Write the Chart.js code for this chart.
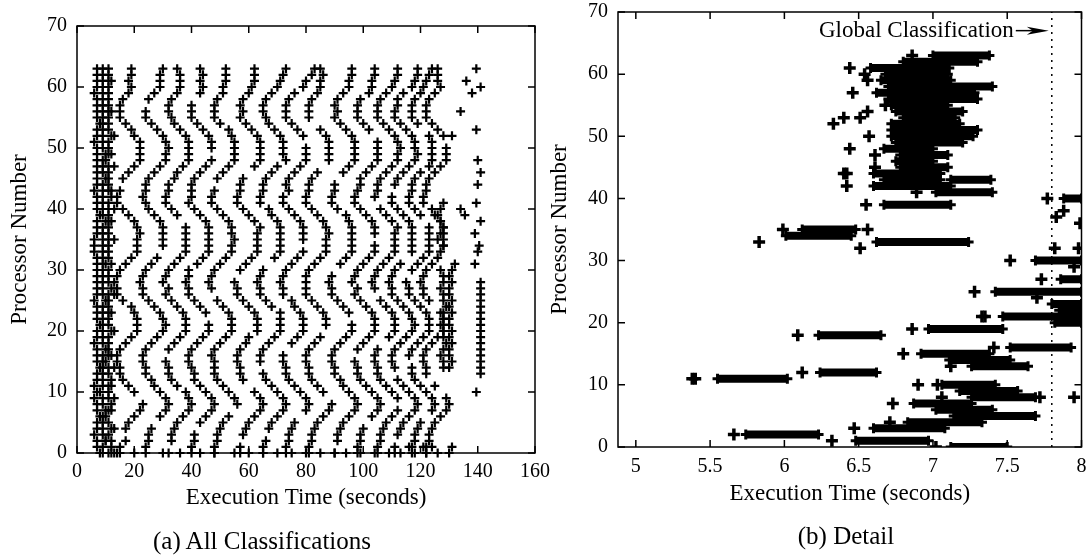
<!DOCTYPE html>
<html>
<head>
<meta charset="utf-8">
<script src="https://cdn.jsdelivr.net/npm/chart.js@4.4.0/dist/chart.umd.min.js"></script>
<style>
  body { margin: 0; background: #fff; width: 1091px; height: 556px; overflow: hidden; position: relative; font-family: 'Liberation Serif', serif; }
  #left { position: absolute; left: 0; top: 0; }
  #right { position: absolute; left: 545px; top: 0; }
  .cap { position: absolute; font-size: 25px; line-height: 30px; color: #000; white-space: nowrap; transform: translateX(-50%); }
</style>
</head>
<body>
<canvas id="left" width="560" height="556"></canvas>
<canvas id="right" width="546" height="556"></canvas>
<div class="cap" style="left:262px; top:526px">(a) All Classifications</div>
<div class="cap" style="left:846px; top:521px">(b) Detail</div>
<script>
// ---- (a) all classifications: one array per wave, index = processor number, value = time (s)
const w1 = [15,15,17,null,17,18,20,22,23,null, 20,18,16,15,15,14,14,15,17,19, 21,21,21,20,19,16,14,14,13,14, 15,17,19,21,21,21,22,21,20,18, 16,14,14,15,null,16,18,20,22,22, 22,22,20,19,17,15,15,15,16,18, 19,18,19,19]
const w2 = [24,24,25,25,26,null,29,31,32,31, 29,27,26,24,24,23,23,24,26,28, 30,31,30,29,27,25,23,23,22,23, 24,26,28,null,30,30,30,30,29,27, 25,24,23,24,24,25,27,29,31,31, 32,31,30,28,26,24,24,null,25,27, 29,29,29,30]
const w3 = [32,null,33,33,34,35,37,39,40,39, 38,35,33,32,32,31,null,32,34,36, 38,38,38,37,35,33,31,32,30,31, 32,34,36,38,38,38,38,38,null,35, 33,31,31,32,32,34,35,37,39,39, 39,39,38,36,34,33,32,32,33,35, 36,36,36,35]
const w4 = [40,40,41,41,null,43,45,47,48,47, 45,43,41,41,40,39,39,40,42,44, 46,46,null,45,43,41,39,39,38,39, 39,42,44,46,46,46,46,46,45,43, 41,39,40,40,40,41,43,45,47,null, 47,47,46,44,42,40,40,40,null,43, 44,43,44,43]
const w5 = [48,48,49,49,50,51,53,null,56,55, 53,51,49,48,48,48,47,48,50,52, 54,54,54,53,51,49,null,47,46,47, 48,50,52,54,54,55,54,54,53,51, 49,47,47,48,null,49,51,53,55,55, 55,55,54,53,50,48,48,48,49,51, 51,52,52,52]
const w6 = [57,57,null,58,59,60,62,64,65,64, 62,null,58,57,57,56,56,57,59,60, 63,63,63,62,60,58,56,56,55,null, 57,59,61,63,63,63,63,64,62,60, 58,56,56,57,57,58,null,62,64,64, 64,64,63,61,59,57,58,57,58,60, 61,62,62,62]
const w7 = [65,65,66,null,67,68,70,72,73,72, 70,68,66,65,null,64,64,65,67,69, 71,71,71,71,68,66,64,64,63,64, 65,null,69,71,71,71,71,71,70,68, 67,64,64,65,65,66,68,70,73,72, 72,72,71,69,67,66,65,65,66,68, 70,71,72,73]
const w8 = [73,73,74,74,75,76,null,80,81,80, 78,76,74,73,73,72,72,null,75,77, 79,79,79,78,76,75,72,72,71,72, 73,75,77,79,null,79,79,79,78,76, 74,72,72,74,73,74,76,78,80,80, 80,null,79,77,75,73,73,73,74,76, 79,80,82,83]
const w9 = [81,81,82,82,83,84,86,88,89,null, 86,84,82,81,81,80,80,81,83,85, null,87,87,86,84,82,80,80,80,80, 81,83,85,87,87,87,88,87,86,84, 82,80,80,81,81,82,84,null,88,88, 88,88,87,85,null,81,81,81,82,84, 85,85,86,85]
const w10 = [90,null,91,91,92,93,95,97,98,97, 95,93,92,90,90,89,89,90,92,94, 96,96,null,95,93,91,89,89,88,89, null,92,94,96,96,96,96,96,95,94, 91,89,89,90,90,null,93,95,97,97, 97,97,96,94,92,90,91,90,91,93, 95,95,96,96]
const w11 = [98,98,99,99,100,null,103,105,106,105, 103,101,99,98,98,97,null,98,100,102, 104,104,104,103,101,99,97,98,96,97, 98,100,102,104,104,null,104,104,103,101, 99,97,97,98,99,99,101,103,105,105, 105,105,null,102,100,98,98,98,99,102, 103,103,104,104]
const w12 = [105,105,106,106,107,108,110,112,null,112, 110,108,106,105,105,104,104,105,null,109, 111,111,111,110,108,106,null,104,103,104, 105,107,109,111,111,111,111,112,110,108, 106,null,104,105,105,106,108,110,112,112, 113,112,111,109,107,105,105,105,106,108, 110,111,112,112]
const w13 = [111,111,null,112,113,114,116,118,119,118, 116,114,112,null,111,110,110,111,113,115, 117,118,117,116,114,112,110,110,109,110, 111,113,null,117,117,117,117,117,116,114, 112,110,110,null,111,112,114,116,118,119, 118,118,117,115,113,111,111,112,112,114, 117,118,119,119]
const w14 = [117,117,118,118,119,120,null,124,125,124, 122,120,118,117,117,null,116,117,119,121, 123,123,123,122,120,118,116,116,115,null, 117,119,121,123,123,123,123,123,null,120, 118,116,116,117,117,118,120,123,124,124, 124,124,123,null,119,117,117,117,118,120, 121,122,123,124]
const w15 = [122,122,123,123,124,125,127,129,130,129, null,125,null,122,122,121,121,122,124,126, 128,128,128,127,null,123,121,121,120,121, 122,124,126,null,128,128,128,128,127,125, 124,121,121,122,122,123,125,127,129,129, 129,null,128,126,124,122,122,122,123,125, 127,126,126,126]

// the early burst of classifications every processor makes
const earlyA = [8,7,7,6,7,7,8,7,7,6, 7,6,7,7,8,7,7,7,6,7, 7,8,7,7,7,6,7,7,7,7, 7,7,7,6,6,6,7,7,7,8, 7,7,7,6,7,7,7,7,7,7, 7,6,7,7,8,7,7,7,7,6, 7,7,7,7]
const earlyB = [9,9,10,9,9,9,9,10,9,9, 8,9,9,9,9,9,9,10,9,9, 9,9,9,9,9,10,9,9,9,9, 9,9,9,9,9,9,9,9,10,9, 9,9,9,9,9,10,9,9,9,10, 9,9,9,9,9,9,9,9,9,9, 9,9,9,9]
const earlyC = [11,12,10,11,12,11,10,11,12,11, 11,11,12,11,11,10,11,11,11,11, 12,11,11,11,11,11,11,12,11,11, 11,10,11,11,11,11,11,11,11,11, 11,11,12,11,11,11,11,11,10,11, 11,11,12,11,11,11,11,11,11,11, 11,11,11,11]
const earlyD = [13,null,12,null,13,null,null,12,null,13, null,12,null,null,13,null,12,null,null,null, 13,null,null,12,null,null,13,null,null,null, null,12,null,null,null,13,null,null,12,null, 13,null,null,12,null,null,null,13,null,12, null,null,13,null,null,null,12,null,null,null, null,12,null,null]

// late classifications (time, processor)
const lateTime = [128,128,127,128,129,128,128,127,128,128,129,128,128,127,128,128,127,
  130,131,130,130,131,130,131,130,130,131,130,131,130,130,131,130,131,132,
  127,128,126,127,128,127,126,127,128,
  141,141,141,141,141,141,141,141,141,141,141,141,141,141,141,141,
  139.5,139,140,140.5,139,141,139.5,140,141,140,139.5,138,141,139.5,
  134,136,131,134,135.5]
const lateProc = [14,15,16,17,18,19,20,21,22,23,24,25,26,27,28,29,30,
  14,15,16,17,18,19,20,21,22,23,24,25,26,27,28,29,30,31,
  33,34,35,36,37,38,39,40,41,
  13,14,15,16,17,18,19,20,21,22,23,24,25,26,27,28,
  10,31,33,34,36,38,41,44,46,48,53,59,60,63,
  56,61,52,40,39]

// processors 0 and 1 classify more often
const proc0Times = [12,14,20,30,36,43,48,55,60,65,70,75,80,85,90,94,99,104,109,113,118,122,126,130]
const proc1Times = [116,121,124,131]

// ---- (b) detail: runs of classifications (processor, start, end) and isolated ones
const bandProc  = [63,62,61,60,59,58,57,56,55,54,53,52,51,50,49,48,47,46,45,44,43,43,42,41,40,39,35,34,33,30,27,25,23,22,21,20,19,18,16,15,14,13,12,11,10,9,8,7,6,5,4,3,2,1,0]
const bandStart = [7.00,6.80,6.58,6.68,6.65,6.70,6.62,6.70,6.72,6.75,6.80,6.72,6.72,6.72,6.75,6.67,6.78,6.75,6.78,6.60,6.67,7.12,6.60,7.02,7.88,6.67,6.12,6.01,6.62,7.69,7.86,7.42,7.80,7.85,7.47,7.82,6.97,6.23,7.52,6.92,7.11,7.26,6.24,5.55,7.06,7.18,7.26,6.87,7.02,7.14,6.83,6.60,5.74,6.48,7.12]
const bandEnd   = [7.38,7.30,7.11,7.10,7.12,7.40,7.28,7.30,7.10,7.20,7.15,7.18,7.30,7.27,7.20,7.00,7.10,7.00,7.10,7.05,7.05,7.39,7.12,7.40,8.00,7.12,6.48,6.45,7.24,8.00,8.00,8.00,8.00,8.00,8.00,8.00,7.47,6.65,7.93,7.38,7.52,7.64,6.62,6.02,7.42,7.57,7.69,7.26,7.40,7.69,7.33,7.08,6.23,6.97,7.50]
const singleTime = [6.86,6.44,6.54,6.56,6.46,6.68,6.56,6.51,6.40,6.33,6.57,6.44,6.61,6.61,6.42,6.40,6.42,6.89,7.77,6.55,7.83,7.88,7.99,5.99,6.56,5.83,6.51,7.82,7.98,7.52,7.95,7.73,7.28,7.70,7.33,7.35,6.86,6.09,7.41,6.80,7.12,6.12,5.38,5.40,6.90,7.03,7.72,7.95,7.06,6.73,6.71,6.47,5.66,6.32,7.02]
const singleProc = [63,61,60,59,57,55,54,53,53,52,50,48,47,45,44,44,42,41,40,39,37,38,36,35,35,33,32,32,32,30,29,27,25,24,21,21,19,18,16,15,13,12,11,11,10,10,8,8,8,7,4,3,2,1,0]
const globalTime = 7.8
const noteProc = 67
const noteText = 'Global Classification'

const serif = 'Liberation Serif'

// build the point lists
const pointsA = []
;[w1,w2,w3,w4,w5,w6,w7,w8,w9,w10,w11,w12,w13,w14,w15,earlyA,earlyB,earlyC,earlyD].forEach(arr => {
  arr.forEach((t, p) => { if (t !== null) pointsA.push({x: t, y: p}) })
})
lateTime.forEach((t, i) => pointsA.push({x: t, y: lateProc[i]}))
proc0Times.forEach(t => pointsA.push({x: t, y: 0}))
proc1Times.forEach(t => pointsA.push({x: t, y: 1}))

const bandPts = []
bandProc.forEach((p, i) => {
  bandPts.push({x: bandStart[i], y: p}, {x: bandEnd[i], y: p}, {x: bandEnd[i], y: null})
})
const singlePts = singleTime.map((t, i) => ({x: t, y: singleProc[i]}))

// box round the plot with inward ticks on all four sides
const boxTicks = {
  id: 'boxTicks',
  afterDatasetsDraw(chart) {
    const {ctx, chartArea: a, scales: {x, y}} = chart
    const t = 7
    ctx.save()
    ctx.strokeStyle = '#000'
    ctx.lineWidth = 1.5
    ctx.strokeRect(a.left, a.top, a.right - a.left, a.bottom - a.top)
    ctx.beginPath()
    x.ticks.forEach(tk => {
      const px = x.getPixelForValue(tk.value)
      ctx.moveTo(px, a.bottom); ctx.lineTo(px, a.bottom - t)
      ctx.moveTo(px, a.top); ctx.lineTo(px, a.top + t)
    })
    y.ticks.forEach(tk => {
      const py = y.getPixelForValue(tk.value)
      ctx.moveTo(a.left, py); ctx.lineTo(a.left + t, py)
      ctx.moveTo(a.right, py); ctx.lineTo(a.right - t, py)
    })
    ctx.stroke()
    ctx.restore()
  }
}

// label + arrow pointing at the global classification line
const note = {
  id: 'note',
  afterDatasetsDraw(chart) {
    const {ctx, scales: {x, y}} = chart
    const tip = x.getPixelForValue(globalTime) - 3
    const yy = y.getPixelForValue(noteProc)
    ctx.save()
    ctx.fillStyle = '#000'
    ctx.strokeStyle = '#000'
    ctx.font = '23px "' + serif + '"'
    ctx.textAlign = 'right'
    ctx.textBaseline = 'middle'
    ctx.fillText(noteText, tip - 35, yy)
    ctx.lineWidth = 1.5
    ctx.beginPath(); ctx.moveTo(tip - 33, yy); ctx.lineTo(tip - 12, yy); ctx.stroke()
    ctx.beginPath()
    ctx.moveTo(tip, yy); ctx.lineTo(tip - 22, yy - 4); ctx.lineTo(tip - 16, yy); ctx.lineTo(tip - 22, yy + 4)
    ctx.closePath(); ctx.fill()
    ctx.restore()
  }
}

function axis(min, max, step, title, titlePad, labelPad, fit) {
  return {
    type: 'linear', min: min, max: max,
    grid: {display: false, drawTicks: false},
    border: {display: false},
    ticks: {stepSize: step, padding: labelPad, color: '#000', includeBounds: false,
            font: {family: serif, size: 20}, callback: v => String(v)},
    title: {display: true, text: title, color: '#000', font: {family: serif, size: 23}, padding: titlePad},
    afterFit: fit
  }
}

new Chart(document.getElementById('left'), {
  type: 'scatter',
  data: {
    datasets: [{
      data: pointsA, pointStyle: 'cross', pointRadius: 4.5, pointBorderWidth: 2.2,
      borderColor: '#000', backgroundColor: '#000', clip: false
    }]
  },
  options: {
    responsive: false, animation: false,
    layout: {padding: {top: 26, right: 25, bottom: 38, left: 0}},
    plugins: {legend: {display: false}, tooltip: {enabled: false}},
    scales: {
      x: axis(0, 160, 20, 'Execution Time (seconds)', {top: 0, bottom: 6}, 7,
              s => { s.height = 65; s.paddingRight = 0; s.paddingLeft = 0 }),
      y: axis(0, 70, 10, 'Processor Number', {top: 6, bottom: 0}, 10,
              s => { s.width = 77; s.paddingTop = 0; s.paddingBottom = 0 })
    }
  },
  plugins: [boxTicks]
})

new Chart(document.getElementById('right'), {
  type: 'scatter',
  data: {
    datasets: [
      {data: bandPts, showLine: true, spanGaps: false, borderColor: '#000', backgroundColor: '#000',
       borderWidth: 8, borderCapStyle: 'butt', pointStyle: 'cross', pointRadius: 5, pointBorderWidth: 3, clip: 0},
      {data: singlePts, pointStyle: 'cross', pointRadius: 6, pointBorderWidth: 3.5,
       borderColor: '#000', backgroundColor: '#000', clip: 0},
      {data: [{x: globalTime, y: 0}, {x: globalTime, y: 70}], showLine: true, borderColor: '#000',
       borderWidth: 1.5, borderDash: [2, 5], pointRadius: 0}
    ]
  },
  options: {
    responsive: false, animation: false,
    layout: {padding: {top: 12, right: 8, bottom: 43, left: 0}},
    plugins: {legend: {display: false}, tooltip: {enabled: false}},
    scales: {
      x: axis(4.88, 8, 0.5, 'Execution Time (seconds)', {top: 0, bottom: 5}, 8,
              s => { s.height = 66; s.paddingRight = 0; s.paddingLeft = 0 }),
      y: axis(0, 70, 10, 'Processor Number', {top: 1, bottom: 0}, 10,
              s => { s.width = 73; s.paddingTop = 0; s.paddingBottom = 0 })
    }
  },
  plugins: [boxTicks, note]
})
</script>
</body>
</html>
